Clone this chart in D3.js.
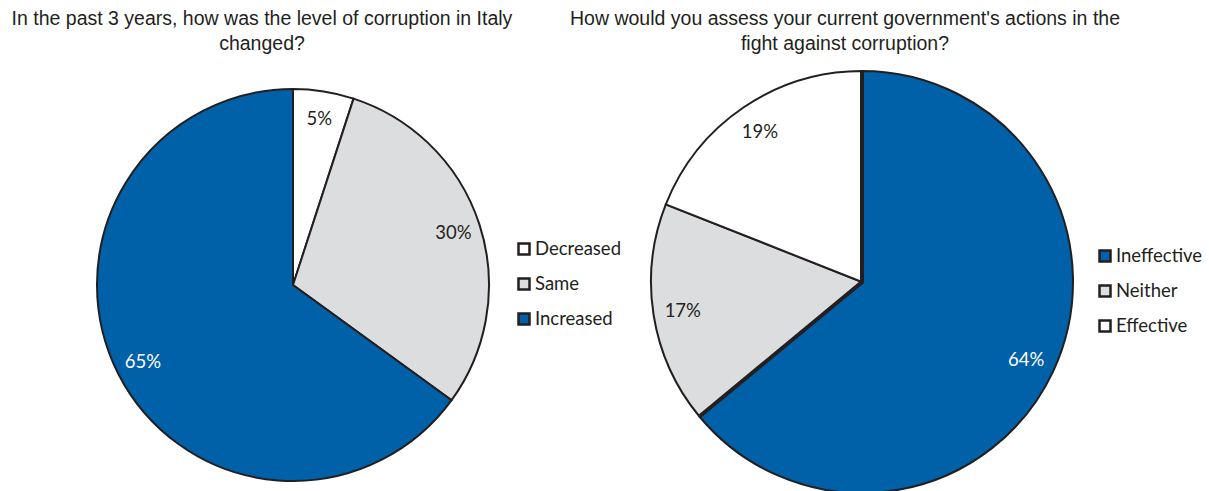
<!DOCTYPE html>
<html>
<head>
<meta charset="utf-8">
<script src="https://cdn.jsdelivr.net/npm/d3@7"></script>
<style>
  html, body { margin: 0; padding: 0; background: #ffffff; }
  svg { display: block; }
  .title { font-family: "Liberation Sans", Arial, sans-serif; font-size: 19.5px; fill: #231f20; }
  .lbl { font-family: Lato, "Open Sans", sans-serif; font-size: 18.5px; }
  .leg { font-family: Lato, "Open Sans", sans-serif; font-size: 18.5px; fill: #231f20; }
</style>
</head>
<body>
<svg id="chart" width="1209" height="491"></svg>
<script>
// Survey answers, in percent, drawn clockwise from 12 o'clock
const changeCategories = ["Decreased", "Same", "Increased"];
const changeValues = [5, 30, 65];
const changeTitle = ["In the past 3 years, how was the level of corruption in Italy", "changed?"];

const govCategories = ["Ineffective", "Neither", "Effective"];
const govValues = [64, 17, 19];
const govTitle = ["How would you assess your current government's actions in the", "fight against corruption?"];

const BLUE = "#0060a8", GREY = "#dcdddf", WHITE = "#ffffff", INK = "#231f20";

const svg = d3.select("#chart");

function drawPie(cfg) {
  const g = svg.append("g").attr("transform", `translate(${cfg.cx},${cfg.cy})`);
  const pie = d3.pie().sort(null).value(d => d.value);
  const arcs = pie(cfg.categories.map((c, i) => ({ name: c, value: cfg.values[i] })));
  const color = d3.scaleOrdinal().domain(cfg.categories).range(cfg.colors);
  const arc = d3.arc().innerRadius(0).outerRadius(cfg.r);
  const labelArc = d3.arc().innerRadius(cfg.r * 0.86).outerRadius(cfg.r * 0.86);

  g.selectAll("path.slice").data(arcs).join("path")
    .attr("class", "slice")
    .attr("d", arc)
    .attr("fill", d => color(d.data.name))
    .attr("stroke", INK)
    .attr("stroke-width", 2)
    .attr("stroke-linejoin", "miter");

  // heavier radial edges around the emphasised slice
  if (cfg.bold) {
    const b = arcs.find(d => d.data.name === cfg.bold);
    const pt = a => [cfg.r * Math.sin(a), -cfg.r * Math.cos(a)];
    g.append("path")
      .attr("d", d3.line()([pt(b.startAngle), [0, 0], pt(b.endAngle)]))
      .attr("fill", "none").attr("stroke", INK).attr("stroke-width", 4)
      .attr("stroke-linejoin", "miter");
  }

  g.selectAll("text.lbl").data(arcs).join("text")
    .attr("class", "lbl")
    .attr("transform", d => `translate(${labelArc.centroid(d)})`)
    .attr("text-anchor", "middle")
    .attr("dy", "0.35em")
    .attr("fill", d => color(d.data.name) === BLUE ? "#ffffff" : INK)
    .text(d => d.data.value + "%");

  const t = svg.append("text").attr("class", "title").attr("text-anchor", "middle");
  cfg.title.forEach((line, i) => {
    t.append("tspan").attr("x", cfg.titleX).attr("y", 25 + i * 25).text(line);
  });

  const leg = svg.append("g").attr("transform", `translate(${cfg.legX},${cfg.legY})`);
  const items = leg.selectAll("g").data(cfg.legendOrder).join("g")
    .attr("transform", (d, i) => `translate(0,${i * 35})`);
  items.append("rect").attr("x", 1.5).attr("y", -5.5).attr("width", 11).attr("height", 11)
    .attr("fill", d => color(d)).attr("stroke", INK).attr("stroke-width", 2.5);
  items.append("text").attr("class", "leg").attr("x", 18).attr("dy", "0.35em").text(d => d);
}

drawPie({
  cx: 293, cy: 285, r: 196,
  categories: changeCategories, values: changeValues,
  colors: [WHITE, GREY, BLUE],
  title: changeTitle, titleX: 262,
  legX: 517, legY: 249, legendOrder: changeCategories
});

drawPie({
  cx: 862, cy: 282, r: 211,
  categories: govCategories, values: govValues,
  colors: [BLUE, GREY, WHITE],
  title: govTitle, titleX: 845,
  legX: 1098, legY: 256, legendOrder: govCategories,
  bold: "Ineffective"
});
</script>
</body>
</html>
